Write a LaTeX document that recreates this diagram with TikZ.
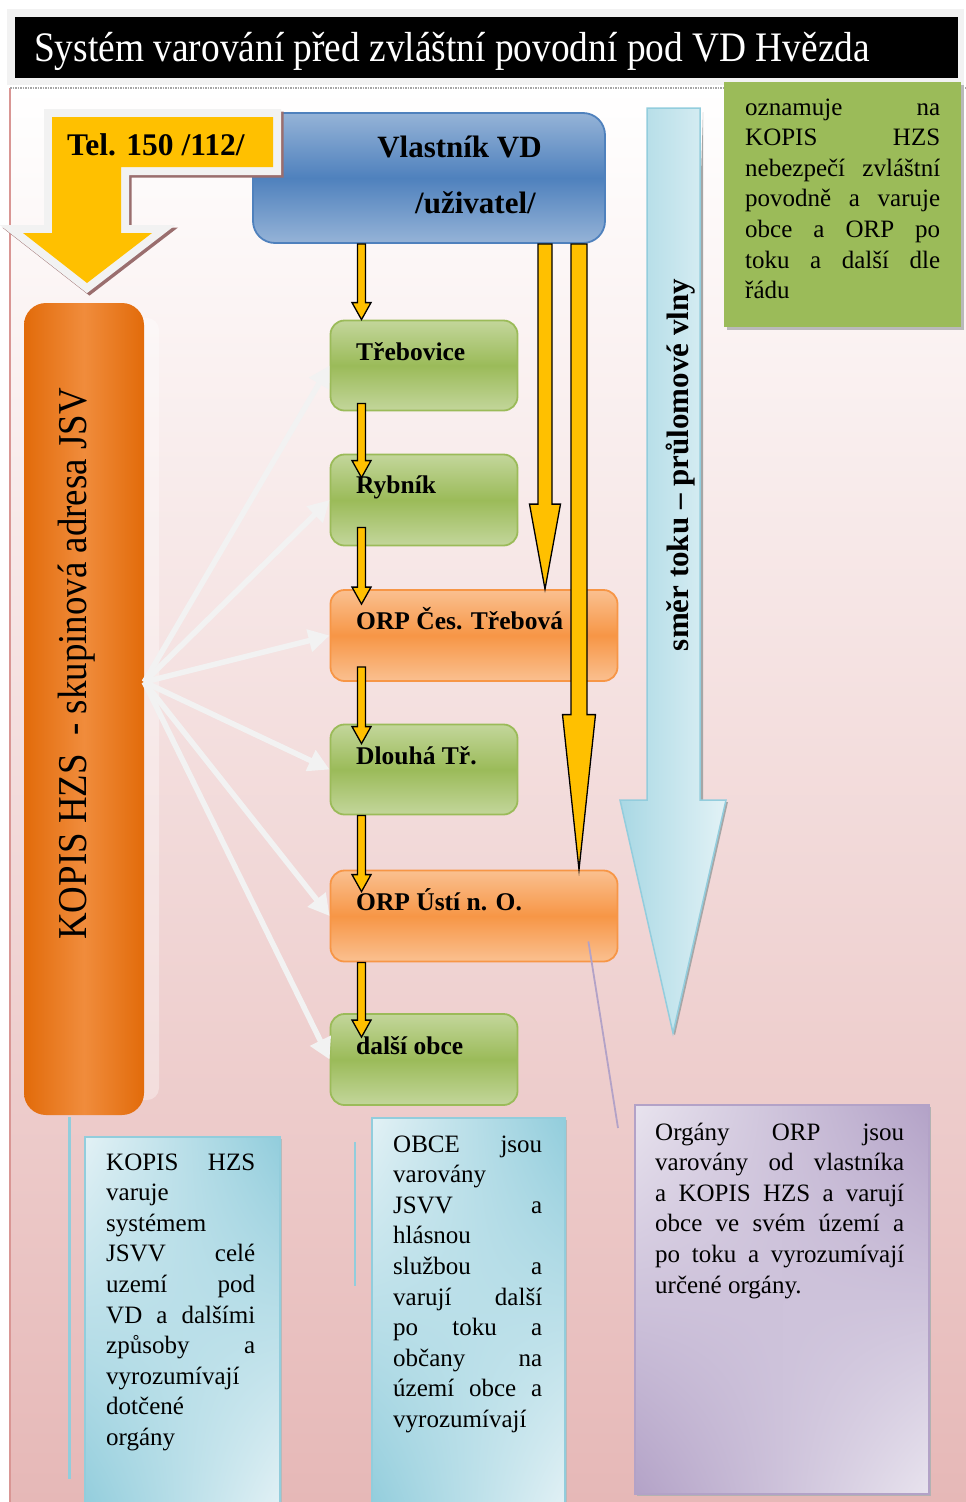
\documentclass[tikz,border=0pt]{standalone}
\usepackage{fontspec}
\usepackage{graphicx}
\setmainfont{Liberation Serif}
\usetikzlibrary{calc,arrows.meta,shadings}
\definecolor{titleGray}{HTML}{F2F2F2}
\definecolor{telY}{HTML}{FFC000}
\definecolor{telShadow}{HTML}{9A6E6E}
\definecolor{vdTop}{HTML}{95B3D7}
\definecolor{vdMid}{HTML}{4F81BD}
\definecolor{gLight}{HTML}{C3D69B}
\definecolor{gMid}{HTML}{9BBB59}
\definecolor{oLight}{HTML}{FAC090}
\definecolor{oMid}{HTML}{F79646}
\definecolor{kDark}{HTML}{E26B0A}
\definecolor{kLight}{HTML}{F08C3C}
\definecolor{flowL}{HTML}{A9D8E4}
\definecolor{flowR}{HTML}{E2F2F6}
\definecolor{flowB}{HTML}{93CDDD}
\definecolor{cyanDark}{HTML}{92CDDC}
\definecolor{cyanLight}{HTML}{E2F1F5}
\definecolor{purpDark}{HTML}{B3A2C7}
\definecolor{purpLight}{HTML}{E8E3EE}
\definecolor{bgBottom}{HTML}{E6B8B7}
\definecolor{pinkLine}{HTML}{D99694}
\definecolor{fanC}{HTML}{F2F2F2}
\newcommand{\jline}[1]{\hbox to \hsize{#1}}
\newcommand{\fline}[1]{\hbox to \hsize{#1\hfil}}
\newcommand{\blockarr}[6]{%
  \draw[draw=black, line width=1.3pt, fill=#6, line join=miter] let \p1=(#1), \p2=(#2) in
  (\x1-#3pt,\y1) -- (\x1-#3pt,\y2+#5pt) -- (\x1-#4pt,\y2+#5pt) -- (\x1,\y2)
  -- (\x1+#4pt,\y2+#5pt) -- (\x1+#3pt,\y2+#5pt) -- (\x1+#3pt,\y1) -- cycle;}
\tikzset{
  gbox/.style={draw=gMid, line width=1.8pt, rounded corners=14pt, top color=gLight, bottom color=gLight, middle color=gMid, minimum width=187pt, minimum height=90pt, inner sep=0},
  obox/.style={draw=oMid, line width=1.8pt, rounded corners=14pt, top color=oLight, bottom color=oLight, middle color=oMid, minimum width=287pt, minimum height=91pt, inner sep=0},
  vdbox/.style={draw=vdMid, line width=1.8pt, rounded corners=22pt, top color=vdTop, bottom color=vdTop, middle color=vdMid, minimum width=352pt, minimum height=130pt, inner sep=0},
  kbox/.style={rounded corners=22pt, left color=kDark, right color=kDark, middle color=kLight, minimum width=120pt, minimum height=812pt, inner sep=0},
  notebox/.style={inner sep=0, anchor=north west},
  lbl/.style={font=\fontsize{25.5}{28}\selectfont\bfseries, anchor=base west, inner sep=0},
  body/.style={font=\fontsize{25}{30.6}\selectfont, anchor=base west, inner sep=0},
  fan/.style={draw=fanC, line width=5.5pt, -{Triangle[length=21pt,width=22pt]}},
}
\begin{document}
\begin{tikzpicture}[x=1pt,y=-1pt]
\useasboundingbox (0,0) rectangle (966,1502);
% background
\fill[white] (0,0) rectangle (966,1502);
\shade[top color=white, bottom color=bgBottom] (10,88) rectangle (966,1502);
\draw[pinkLine, line width=2pt] (10,88) -- (10,1502);
\draw[gray!70, line width=1.5pt, densely dotted] (10,88) -- (966,88);
% title
\fill[titleGray] (7,9) rectangle (964,85);
\fill[black] (15,17) rectangle (958,78);
\node[anchor=base west, inner sep=0, text=white, font=\fontsize{42}{48}\selectfont] (title) at (34,61)
  {\scalebox{0.89}[1]{Systém varování před zvláštní povodní pod VD Hvězda}};
% flow direction arrow
\fill[gray!70] (703,112) -- (703,802) -- (728,802) -- (675,1035) -- (673,1033) -- cycle;
\shade[left color=flowL, right color=flowR, draw=flowB, line width=1.5pt]
  (647,108) -- (647,800) -- (620,800) -- (673,1033) -- (726,800) -- (700,800) -- (700,108) -- cycle;
\node[rotate=90, anchor=base, inner sep=0, font=\fontsize{31}{36}\selectfont\bfseries] (flowtxt) at (688,465)
  {směr toku – průlomové vlny};
% top right note
\fill[gray!55] (727,85) rectangle (964,330);
\node[notebox, fill=gMid, minimum width=237pt, minimum height=245pt] (note) at (724,82) {};
\node[body] (noteT) at (745,115) {\parbox[t]{195pt}{%
  \jline{oznamuje na}\jline{KOPIS HZS}\jline{nebezpečí zvláštní}\jline{povodně a varuje}%
  \jline{obce a ORP po}\jline{toku a další dle}\fline{řádu}}};
% KOPIS box
\fill[white, opacity=.35, rounded corners=12pt] (40,318) rectangle (159,1100);
\node[kbox] (kopis) at (84,709) {};
\node[rotate=90, anchor=base, inner sep=0, font=\fontsize{41}{48}\selectfont] (kopistxt) at (86,664)
  {\scalebox{0.9}[1]{KOPIS HZS\ \ - skupinová adresa JSV}};
% owner box
\node[vdbox] (vd) at (429,178) {};
\node[anchor=base, inner sep=0, font=\fontsize{31}{36}\selectfont\bfseries] (vdA) at (459.5,157) {Vlastník VD};
\node[anchor=base, inner sep=0, font=\fontsize{31}{36}\selectfont\bfseries] (vdB) at (475.5,213) {/uživatel/};
% Tel arrow
\def\telpath{(52,117) -- (273,117) -- (273,167) -- (121,167) -- (121,233) -- (152,233) -- (87,283) -- (23,233) -- (52,233) -- cycle}
\draw[telShadow, line width=16pt, line join=miter] [shift={(2.5,2.5)}] \telpath;
\draw[titleGray, line width=16pt, line join=miter] \telpath;
\fill[telY] \telpath;
\node[anchor=base west, inner sep=0, font=\fontsize{31.5}{36}\selectfont\bfseries] (tel) at (67,155) {Tel. 150 /112/};
% municipality boxes
\node[gbox] (treb) at (424,365.5) {};
\node[gbox, minimum height=91pt] (ryb) at (424,500) {};
\node[obox] (cesk) at (474,635.5) {};
\node[gbox] (dlouha) at (424,769.5) {};
\node[obox] (usti) at (474,916) {};
\node[gbox, minimum height=91pt] (dalsi) at (424,1059.5) {};
\node[lbl] (trebL) at (356,360) {Třebovice};
\node[lbl] (rybL) at (356,493) {Rybník};
\node[lbl] (ceskL) at (356,629) {ORP Čes. Třebová};
\node[lbl] (dlouhaL) at (356,764) {Dlouhá Tř.};
\node[lbl] (ustiL) at (356,910) {ORP Ústí n. O.};
\node[lbl] (dalsiL) at (356,1054) {další obce};
% fan arrows from KOPIS
\coordinate (fo) at ($(kopis.east)+(0,-27)$);
\foreach \t in {treb,ryb,cesk,dlouha,usti,dalsi} \draw[fan] (fo) -- (\t.west);
% yellow warning arrows
\coordinate (ax) at (361.5,0);
\coordinate (bx1) at (545,0);
\coordinate (bx2) at (579,0);
\blockarr{vd.south -| ax}{treb.north -| ax}{4}{9.5}{17}{telY}
\blockarr{$(treb.south -| ax)+(0,-8)$}{$(ryb.north -| ax)+(0,24)$}{4}{9.5}{17}{telY}
\blockarr{$(ryb.south -| ax)+(0,-19)$}{$(cesk.north -| ax)+(0,15)$}{4}{9.5}{17}{telY}
\blockarr{$(cesk.south -| ax)+(0,-15)$}{$(dlouha.north -| ax)+(0,20)$}{4}{9.5}{17}{telY}
\blockarr{dlouha.south -| ax}{$(usti.north -| ax)+(0,22)$}{4}{9.5}{17}{telY}
\blockarr{usti.south -| ax}{$(dalsi.north -| ax)+(0,24)$}{4}{9.5}{17}{telY}
\blockarr{vd.south -| bx1}{cesk.north -| bx1}{7}{15.5}{85}{telY}
\blockarr{vd.south -| bx2}{usti.north -| bx2}{8}{16.5}{155}{telY}
% callout line to ORP note
\coordinate (pe) at (618,1128);
\draw[purpDark, line width=1.8pt] ($(usti.south east)+(-30,-21)$) -- (pe);
% bottom notes
\draw[cyanDark, line width=3pt] (69,1117) -- (69,1479);
\draw[cyanDark, line width=2.5pt] (355,1142) -- (355,1286);
\fill[gray!55] (87,1139) rectangle (282,1505);
\node[notebox, draw=cyanDark, line width=2pt, upper left=cyanLight, upper right=cyanDark, lower left=cyanDark, lower right=cyanLight, minimum width=195pt, minimum height=370pt] (noteL) at (84,1136) {};
\fill[gray!55] (374,1120) rectangle (567,1505);
\node[notebox, draw=cyanDark, line width=2pt, upper left=cyanLight, upper right=cyanDark, lower left=cyanDark, lower right=cyanLight, minimum width=193pt, minimum height=390pt] (noteM) at (371,1117) {};
\fill[gray!60] (637,1107) rectangle (931,1496);
\node[notebox, draw=purpDark, line width=2pt, upper left=purpLight, upper right=purpDark, lower left=purpDark, lower right=purpLight, minimum width=294pt, minimum height=389pt] (noteR) at (634,1104) {};
\node[body] (noteLT) at (106,1170) {\parbox[t]{149pt}{%
  \jline{KOPIS HZS}\fline{varuje}\fline{systémem}\jline{JSVV celé}\jline{uzemí pod}%
  \jline{VD a dalšími}\jline{způsoby a}\fline{vyrozumívají}\fline{dotčené}\fline{orgány}}};
\node[body] (noteMT) at (393,1152) {\parbox[t]{149pt}{%
  \jline{OBCE jsou}\fline{varovány}\jline{JSVV a}\fline{hlásnou}\jline{službou a}%
  \jline{varují další}\jline{po toku a}\jline{občany na}\jline{území obce a}\fline{vyrozumívají}}};
\node[body] (noteRT) at (655,1140) {\parbox[t]{249pt}{%
  \jline{Orgány ORP jsou}\jline{varovány od vlastníka}\jline{a KOPIS HZS a varují}%
  \jline{obce ve svém území a}\jline{po toku a vyrozumívají}\fline{určené orgány.}}};
\end{tikzpicture}
\end{document}
